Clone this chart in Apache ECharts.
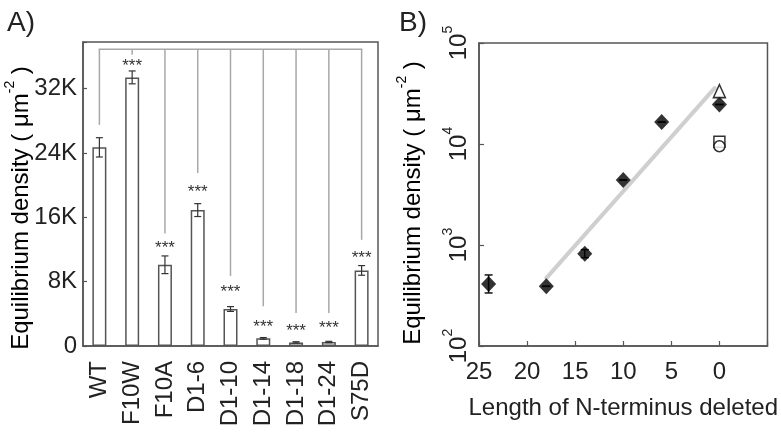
<!DOCTYPE html>
<html><head><meta charset="utf-8">
<script src="https://cdn.jsdelivr.net/npm/echarts@6/dist/echarts.min.js"></script>
<style>html,body{margin:0;padding:0;background:#fff}#c{width:781px;height:433px}</style>
</head><body><div id="c"></div>
<script>
// ---------- Panel A data ----------
const categories = ['WT','F10W','F10A','D1-6','D1-10','D1-14','D1-18','D1-24','S75D'];
const density = [24700, 33400, 10100, 16900, 4600, 950, 450, 500, 9400];
const densityErr = [1200, 800, 1100, 800, 300, 100, 80, 80, 600];
const sigLabels = ['', '***', '***', '***', '***', '***', '***', '***', '***'];
const starLevel = [null, 35200, 12500, 19500, 7000, 2650, 2200, 2550, 11300];
const linkEnd = [27500, 36200, 14000, 21500, 8700, 4950, 4100, 4100, 13200];
const bracketLevel = 36900;
const yMaxA = 37800;

// ---------- Panel B data ----------
const deletedLen = [24, 18, 14, 10, 6, 0];
const deletedDensity = [410, 390, 820, 4400, 16500, 24600];
const deletedErrLow = [335, 390, 750, 4400, 16500, 24600];
const deletedErrHigh = [505, 390, 900, 4400, 16500, 24600];
const triLen = [0], triDensity = [33400];
const squareLen = [0], squareDensity = [10500];
const circleLen = [0], circleDensity = [9500];
const fitLen = [18, 0.5];
const fitDensity = [470, 35800];

const FONT = '"Liberation Sans", Arial, sans-serif';
const TXT = '#222';
const BORDER = '#555';

const chart = echarts.init(document.getElementById('c'));

const supRich = {
  a: {fontSize: 24, fontFamily: FONT, color: TXT, verticalAlign: 'bottom', lineHeight: 30},
  s: {fontSize: 14, fontFamily: FONT, color: TXT, verticalAlign: 'top', lineHeight: 30}
};

const option = {
  animation: false,
  backgroundColor: '#fff',
  textStyle: {fontFamily: FONT},
  grid: [
    {left: 83, top: 42, width: 295, height: 304, show: true, borderColor: BORDER, borderWidth: 1.5, containLabel: false},
    {left: 479, top: 43, width: 292, height: 303, show: true, borderColor: BORDER, borderWidth: 1.5, containLabel: false}
  ],
  xAxis: [
    {
      gridIndex: 0, type: 'category', data: categories, boundaryGap: true,
      axisLine: {onZero: false, lineStyle: {color: BORDER, width: 1.5}},
      axisTick: {inside: false, length: 5, lineStyle: {color: BORDER, width: 1.2}},
      axisLabel: {rotate: 90, margin: 15, fontSize: 24, color: TXT, fontFamily: FONT, interval: 0}
    },
    {
      gridIndex: 1, type: 'value', min: -5, max: 25, interval: 5, inverse: true,
      axisLine: {onZero: false, lineStyle: {color: BORDER, width: 1.5}},
      axisTick: {inside: true, length: 5, lineStyle: {color: BORDER, width: 1.2}},
      splitLine: {show: false},
      axisLabel: {margin: 14, fontSize: 24, color: TXT, fontFamily: FONT,
        formatter: v => v < 0 ? '' : String(v)},
      name: 'Length of N-terminus deleted', nameLocation: 'middle', nameGap: 50,
      nameTextStyle: {fontSize: 24, color: TXT, fontFamily: FONT}
    }
  ],
  yAxis: [
    {
      gridIndex: 0, type: 'value', min: 0, max: yMaxA, interval: 8000,
      axisLine: {show: true, onZero: false, lineStyle: {color: BORDER, width: 1.5}},
      axisTick: {show: true, inside: true, length: 4, lineStyle: {color: BORDER, width: 1.2}},
      splitLine: {show: false},
      axisLabel: {margin: 6, fontSize: 24, color: TXT, fontFamily: FONT,
        formatter: v => (v % 8000 !== 0) ? '' : (v === 0 ? '0' : (v / 1000) + 'K')}
    },
    {
      gridIndex: 1, type: 'log', logBase: 10, min: 100, max: 100000,
      axisLine: {show: true, onZero: false, lineStyle: {color: BORDER, width: 1.5}},
      axisTick: {show: true, inside: true, length: 5, lineStyle: {color: BORDER, width: 1.2}},
      minorTick: {show: false},
      splitLine: {show: false},
      axisLabel: {rotate: 90, margin: 8,
        formatter: v => '{a|10}{s|' + Math.round(Math.log10(v)) + '}',
        rich: supRich}
    }
  ],
  title: [
    {text: 'A)', left: 2, top: 4, textStyle: {fontSize: 28, fontWeight: 'normal', color: TXT, fontFamily: FONT}},
    {text: 'B)', left: 394, top: 4, textStyle: {fontSize: 28, fontWeight: 'normal', color: TXT, fontFamily: FONT}}
  ],
  graphic: [
    {type: 'text', x: 18, y: 208, rotation: Math.PI / 2,
      style: {text: '{a|Equilibrium density ( μm}{s|-2}{a| )}', rich: supRich, align: 'center', verticalAlign: 'middle'}},
    {type: 'text', x: 410, y: 203, rotation: Math.PI / 2,
      style: {text: '{a|Equilibrium density ( μm}{s|-2}{a| )}', rich: supRich, align: 'center', verticalAlign: 'middle'}}
  ],
  series: [
    {
      type: 'bar', xAxisIndex: 0, yAxisIndex: 0, data: density, barWidth: 14,
      itemStyle: {color: '#fff', borderColor: '#555', borderWidth: 1.5}, z: 3
    },
    {
      type: 'custom', xAxisIndex: 0, yAxisIndex: 0, z: 4,
      data: density.map((v, i) => [i, v - densityErr[i], v + densityErr[i]]),
      renderItem: (params, api) => {
        const lo = api.coord([api.value(0), api.value(1)]);
        const hi = api.coord([api.value(0), api.value(2)]);
        const w = 3.5;
        const st = {stroke: '#333', lineWidth: 1.2};
        return {type: 'group', children: [
          {type: 'line', shape: {x1: lo[0], y1: lo[1], x2: hi[0], y2: hi[1]}, style: st},
          {type: 'line', shape: {x1: lo[0] - w, y1: lo[1], x2: lo[0] + w, y2: lo[1]}, style: st},
          {type: 'line', shape: {x1: hi[0] - w, y1: hi[1], x2: hi[0] + w, y2: hi[1]}, style: st}
        ]};
      }
    },
    {
      type: 'custom', xAxisIndex: 0, yAxisIndex: 0, z: 2,
      data: linkEnd.map((v, i) => [i, v, starLevel[i] == null ? NaN : starLevel[i]]),
      renderItem: (params, api) => {
        const i = params.dataIndex;
        const top = api.coord([i, bracketLevel]);
        const end = api.coord([i, linkEnd[i]]);
        const st = {stroke: '#a8a8a8', lineWidth: 1.5};
        const children = [
          {type: 'line', shape: {x1: top[0], y1: top[1], x2: end[0], y2: end[1]}, style: st}
        ];
        if (i === 0) {
          const last = api.coord([categories.length - 1, bracketLevel]);
          children.push({type: 'line', shape: {x1: top[0] - 0.7, y1: top[1], x2: last[0] + 0.7, y2: last[1]}, style: st});
        }
        if (sigLabels[i]) {
          const s = api.coord([i, starLevel[i]]);
          children.push({type: 'text', x: s[0], y: s[1] + 3,
            style: {text: sigLabels[i], fontSize: 17, fontFamily: FONT, fill: '#333', align: 'center', verticalAlign: 'middle'}});
        }
        return {type: 'group', children};
      }
    },
    // Panel B
    {
      type: 'line', xAxisIndex: 1, yAxisIndex: 1, data: fitLen.map((x, i) => [x, fitDensity[i]]),
      symbol: 'none', lineStyle: {color: '#cfcfcf', width: 4, cap: 'round'}, z: 2
    },
    {
      type: 'custom', xAxisIndex: 1, yAxisIndex: 1, z: 3,
      data: deletedLen.map((x, i) => [x, deletedErrLow[i], deletedErrHigh[i]]),
      renderItem: (params, api) => {
        const lo = api.coord([api.value(0), api.value(1)]);
        const hi = api.coord([api.value(0), api.value(2)]);
        const w = 4;
        const st = {stroke: '#111', lineWidth: 1.5};
        return {type: 'group', children: [
          {type: 'line', shape: {x1: lo[0], y1: lo[1], x2: hi[0], y2: hi[1]}, style: st},
          {type: 'line', shape: {x1: lo[0] - w, y1: lo[1], x2: lo[0] + w, y2: lo[1]}, style: st},
          {type: 'line', shape: {x1: hi[0] - w, y1: hi[1], x2: hi[0] + w, y2: hi[1]}, style: st}
        ]};
      }
    },
    {
      type: 'scatter', xAxisIndex: 1, yAxisIndex: 1, z: 4,
      data: deletedLen.map((x, i) => [x, deletedDensity[i]]),
      symbol: 'diamond', symbolSize: [15, 16], itemStyle: {color: '#000'}
    },
    {
      type: 'scatter', xAxisIndex: 1, yAxisIndex: 1, z: 4,
      data: triLen.map((x, i) => [x, triDensity[i]]),
      symbol: 'triangle', symbolSize: [12, 13], itemStyle: {color: '#fff', borderColor: '#000', borderWidth: 1.5}
    },
    {
      type: 'scatter', xAxisIndex: 1, yAxisIndex: 1, z: 4,
      data: squareLen.map((x, i) => [x, squareDensity[i]]),
      symbol: 'rect', symbolSize: [11, 11], itemStyle: {color: '#fff', borderColor: '#000', borderWidth: 1.5}
    },
    {
      type: 'scatter', xAxisIndex: 1, yAxisIndex: 1, z: 5,
      data: circleLen.map((x, i) => [x, circleDensity[i]]),
      symbol: 'circle', symbolSize: 11, itemStyle: {color: '#fff', borderColor: '#000', borderWidth: 1.5}
    }
  ]
};
chart.setOption(option);
</script>
</body></html>
